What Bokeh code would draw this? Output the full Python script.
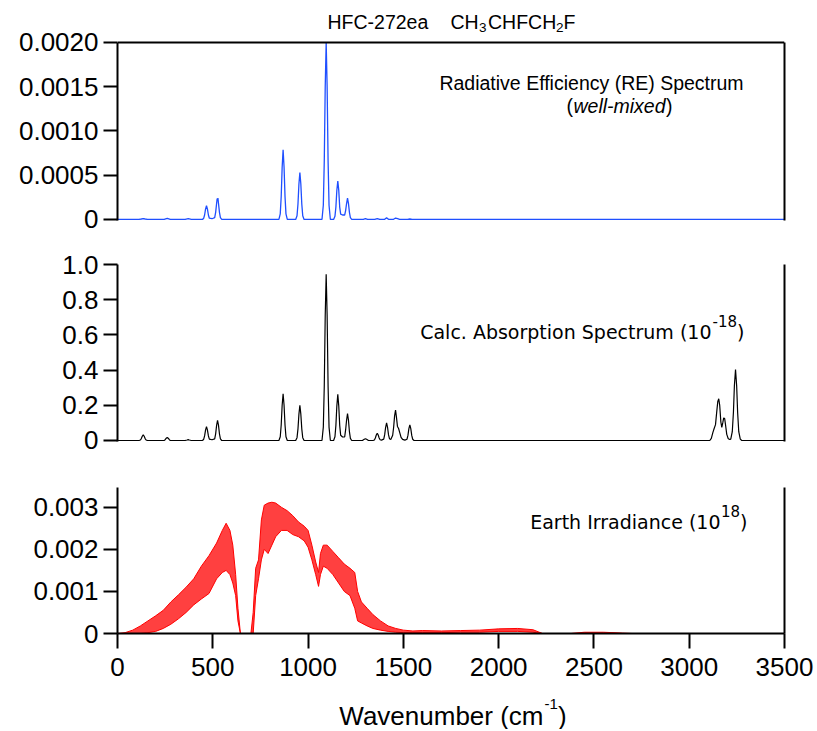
from bokeh.plotting import figure
from bokeh.layouts import column
from bokeh.models import Range1d, LinearAxis, FixedTicker, Label, Span
from bokeh.embed import file_html
from bokeh.resources import INLINE

# ---------------- data ----------------
x_ticks = [0, 500, 1000, 1500, 2000, 2500, 3000, 3500]
x_tick_labels = ["0", "500", "1000", "1500", "2000", "2500", "3000", "3500"]

re_ticks = [0, 0.0005, 0.001, 0.0015, 0.002]
re_tick_labels = ["0", "0.0005", "0.0010", "0.0015", "0.0020"]
abs_ticks = [0, 0.2, 0.4, 0.6, 0.8, 1.0]
abs_tick_labels = ["0", "0.2", "0.4", "0.6", "0.8", "1.0"]
irr_ticks = [0, 0.001, 0.002, 0.003]
irr_tick_labels = ["0", "0.001", "0.002", "0.003"]

# Radiative efficiency spectrum (well-mixed)
re_x = [0, 113, 125, 135, 145, 157,
        245, 261, 277,
        355, 371, 387,
        445, 452, 457, 462, 467, 472, 477, 482, 496, 510, 515, 520, 523, 525, 527, 530, 535, 540, 547,
        847, 854, 859, 864, 869, 874, 879, 884, 891,
        935, 942, 947, 952, 957, 962, 967, 972, 979,
        1073, 1080, 1085, 1090, 1095, 1100, 1105, 1110, 1117,
        1134, 1141, 1146, 1151, 1156, 1161, 1166, 1171, 1181,
        1192, 1197, 1202, 1207, 1212, 1217, 1222, 1229,
        1290, 1301, 1312, 1350, 1363, 1376, 1400, 1412, 1424, 1447, 1459, 1470, 1480, 1522, 1534, 1546, 3500]
re_y = [0, 0, 0.000005, 0.00001, 0.000005, 0,
        0, 0.000012, 0,
        0, 0.000008, 0,
        0, 0.000012, 0.00005, 0.000116, 0.000155, 0.000116, 0.00005, 0.000014, 0.000008, 0.00002,
        0.00008, 0.00018, 0.000235, 0.000225, 0.000241, 0.00018, 0.00008, 0.00002, 0,
        0, 0.000063, 0.00026, 0.00059, 0.000787, 0.00059, 0.00026, 0.000063, 0,
        0, 0.000042, 0.000175, 0.0004, 0.000531, 0.0004, 0.000175, 0.000042, 0,
        0, 0.00016, 0.00066, 0.0015, 0.002, 0.0015, 0.00066, 0.00016, 0,
        0, 0.000035, 0.00014, 0.00033, 0.000433, 0.00033, 0.00014, 0.00006, 0.00005,
        0.00005, 0.0001, 0.00018, 0.000241, 0.00018, 0.00008, 0.00002, 0,
        0, 0.000008, 0, 0, 0.00001, 0, 0, 0.000018, 0, 0, 0.000016, 0.000008, 0, 0, 0.000005, 0, 0]

# Calculated absorption spectrum (1e-18)
abs_x = [0, 113, 120, 125, 130, 135, 140, 145, 150, 157,
         239, 246, 251, 256, 261, 266, 271, 276, 283,
         355, 365, 371, 377, 387,
         445, 452, 457, 462, 467, 472, 477, 482, 496, 510, 515, 520, 525, 530, 535, 540, 547,
         847, 854, 859, 864, 869, 874, 879, 884, 891,
         935, 942, 947, 952, 957, 962, 967, 972, 979,
         1073, 1080, 1085, 1090, 1095, 1100, 1105, 1110, 1117,
         1134, 1141, 1146, 1151, 1156, 1161, 1166, 1171, 1181,
         1192, 1197, 1202, 1207, 1212, 1217, 1222, 1229,
         1285, 1295, 1301, 1307, 1317,
         1341, 1348, 1353, 1358, 1363, 1368, 1373, 1378, 1385,
         1397, 1402, 1407, 1412, 1417, 1422, 1427, 1434,
         1444, 1449, 1454, 1459, 1464, 1469, 1475, 1481, 1488, 1496,
         1508, 1519, 1524, 1529, 1534, 1539, 1544, 1549, 1556,
         3108, 3116, 3124, 3130, 3138, 3145, 3150, 3155, 3160, 3166, 3171, 3176, 3181, 3186, 3191, 3197, 3205, 3213,
         3218, 3226, 3232, 3237, 3243, 3249, 3254, 3260, 3268, 3276, 3500]
abs_y = [0, 0, 0.003, 0.011, 0.024, 0.032, 0.024, 0.011, 0.003, 0,
         0, 0.001, 0.006, 0.013, 0.017, 0.013, 0.006, 0.001, 0,
         0, 0.003, 0.005, 0.003, 0,
         0, 0.006, 0.026, 0.059, 0.079, 0.059, 0.026, 0.008, 0.004, 0.009, 0.038, 0.086, 0.115, 0.086, 0.038, 0.009, 0,
         0, 0.021, 0.088, 0.2, 0.266, 0.2, 0.088, 0.021, 0,
         0, 0.016, 0.066, 0.15, 0.2, 0.15, 0.066, 0.016, 0,
         0, 0.076, 0.31, 0.71, 0.945, 0.71, 0.31, 0.076, 0,
         0, 0.021, 0.086, 0.197, 0.262, 0.197, 0.086, 0.03, 0.02,
         0.02, 0.06, 0.115, 0.153, 0.115, 0.05, 0.012, 0,
         0, 0.007, 0.01, 0.007, 0,
         0, 0.003, 0.014, 0.031, 0.041, 0.031, 0.014, 0.004, 0.002,
         0.008, 0.033, 0.075, 0.1, 0.075, 0.033, 0.01, 0.006,
         0.03, 0.075, 0.14, 0.173, 0.13, 0.08, 0.068, 0.045, 0.018, 0.006,
         0.002, 0.007, 0.029, 0.067, 0.089, 0.067, 0.029, 0.007, 0,
         0, 0.012, 0.045, 0.065, 0.09, 0.17, 0.222, 0.237, 0.2, 0.105, 0.075, 0.1, 0.128, 0.125, 0.085, 0.035, 0.01, 0.006,
         0.008, 0.05, 0.16, 0.31, 0.403, 0.31, 0.16, 0.05, 0.008, 0, 0]

# Earth irradiance (1e18): upper and lower envelope of the dense line spectrum
irr_x = [0, 40, 80, 120, 160, 200, 240, 280, 320, 360,
         400, 440, 480, 520, 550, 570, 590, 605, 620, 632,
         645, 700, 712, 725, 740, 755, 770, 790, 810, 830,
         860, 890, 920, 950, 980, 1000, 1020, 1040, 1055, 1065,
         1080, 1100, 1130, 1160, 1190, 1220, 1245, 1260, 1280, 1310,
         1340, 1380, 1420, 1460, 1500, 1550, 1600, 1700, 1800, 1900,
         2000, 2100, 2180, 2230, 2380, 2450, 2550, 2650, 2700, 3500]
irr_upper = [0, 0.00002, 0.00008, 0.00018, 0.0003, 0.00042, 0.00055, 0.00075, 0.00092, 0.0011,
             0.0013, 0.0016, 0.00185, 0.00215, 0.00245, 0.00262, 0.00245, 0.0021, 0.0014, 0.0006,
             0, 0, 0.0005, 0.00155, 0.00175, 0.0027, 0.00305, 0.0031, 0.00312, 0.0031,
             0.003, 0.00292, 0.0028, 0.00265, 0.00255, 0.00245, 0.0021, 0.0017, 0.00145, 0.0019,
             0.0021, 0.0021, 0.00195, 0.0018, 0.00165, 0.00155, 0.00145, 0.001, 0.00075, 0.0006,
             0.00045, 0.0003, 0.00018, 0.00012, 0.00008, 0.00006, 0.00007, 0.00006, 0.00007, 0.00008,
             0.00011, 0.00012, 0.00009, 0, 0, 0.00003, 0.00003, 0.00001, 0, 0]
irr_lower = [0, 0, 0, 0, 0.00002, 0.00005, 0.00012, 0.00022, 0.00035, 0.0005,
             0.00068, 0.00082, 0.00095, 0.0013, 0.00145, 0.0015, 0.0014, 0.0012, 0.0009, 0.0003,
             0, 0, 0, 0.0009, 0.0013, 0.00175, 0.002, 0.0019, 0.0021, 0.0023,
             0.00245, 0.00245, 0.00235, 0.0023, 0.0022, 0.00205, 0.00175, 0.0014, 0.00112, 0.0014,
             0.0016, 0.00155, 0.0014, 0.0012, 0.001, 0.0009, 0.0006, 0.0003, 0.00025, 0.00018,
             0.00012, 0.00008, 0.00005, 0.00003, 0.00002, 0.00002, 0.00002, 0.00002, 0.00003, 0.00003,
             0.00005, 0.00005, 0.00003, 0, 0, 0.00001, 0.00001, 0, 0, 0]

# ---------------- layout constants ----------------
FRAME_W = 667
LEFT = 117
RIGHT = 31
SANS = "Liberation Sans"
ALT = "DejaVu Sans"
TICK_FONT = "26px"

x_range = Range1d(0, 3500)


def make_fig(frame_h, y_range, top, bottom, yloc="left"):
    p = figure(frame_width=FRAME_W, frame_height=frame_h, x_range=x_range, y_range=y_range,
               output_backend="svg", toolbar_location=None, x_axis_location=None,
               y_axis_location=yloc,
               min_border_left=LEFT, min_border_right=RIGHT,
               min_border_top=top, min_border_bottom=bottom)
    p.grid.visible = False
    p.outline_line_color = None
    p.background_fill_color = "white"
    p.border_fill_color = "white"
    return p


def style_axis(ax, ticks, labels, tick_out=14, standoff=5, bounds="auto"):
    ax.ticker = FixedTicker(ticks=ticks)
    ax.major_label_overrides = {t: l for t, l in zip(ticks, labels)}
    ax.axis_line_width = 2
    ax.axis_line_color = "black"
    ax.major_tick_line_width = 2
    ax.major_tick_line_color = "black"
    ax.major_tick_out = tick_out
    ax.major_tick_in = 0
    ax.minor_tick_line_color = None
    ax.major_label_text_font = SANS
    ax.major_label_text_font_size = TICK_FONT
    ax.major_label_text_color = "black"
    ax.major_label_standoff = standoff
    ax.bounds = bounds


def border_axis(p, side, bounds="auto"):
    ax = LinearAxis(ticker=FixedTicker(ticks=[]), axis_line_width=2, axis_line_color="black",
                    major_tick_line_color=None, minor_tick_line_color=None,
                    major_tick_out=0, major_tick_in=0, major_label_standoff=0,
                    major_label_text_font_size="0px", bounds=bounds)
    p.add_layout(ax, side)


def txt(p, xpx, yref, dy, text, size, font=SANS, align="left", style="normal"):
    p.add_layout(Label(x=0, y=yref, x_offset=xpx - LEFT, y_offset=dy, text=text,
                       text_font=font, text_font_size=size, text_align=align,
                       text_baseline="alphabetic", text_font_style=style, text_color="black"))


# ---------------- panel 1: RE spectrum (frame reaches the page top for the title) ----------------
Y1 = 0.002
p1 = make_fig(220, Range1d(-0.000012, 0.0024747), 0, 22)
style_axis(p1.yaxis[0], re_ticks, re_tick_labels, bounds=(-0.000012, Y1))
border_axis(p1, "right", (-0.000012, Y1))
p1.add_layout(Span(location=Y1, dimension="width", line_color="black", line_width=2))
p1.line(re_x, re_y, line_color="#1f4fff", line_width=1.3)

txt(p1, 327, Y1, 20, "HFC-272ea", "19.5px")
txt(p1, 450, Y1, 20, "CH", "19.5px")
txt(p1, 478.5, Y1, 15, "3", "13.5px")
txt(p1, 487.5, Y1, 20, "CHFCH", "19.5px")
txt(p1, 555.5, Y1, 15, "2", "13.5px")
txt(p1, 563, Y1, 20, "F", "19.5px")

txt(p1, 591, Y1, -41, "Radiative Efficiency (RE) Spectrum", "19.5px", align="center")
txt(p1, 619, Y1, -64, "well-mixed", "19.5px", align="center", style="italic")
txt(p1, 572.5, Y1, -64, "(", "19.5px", align="right")
txt(p1, 665.5, Y1, -64, ")", "19.5px")

# ---------------- panel 2: absorption spectrum ----------------
p2 = make_fig(177, Range1d(-0.0057, 1.0), 22, 23)
style_axis(p2.yaxis[0], abs_ticks, abs_tick_labels)
border_axis(p2, "right")
p2.line(abs_x, abs_y, line_color="black", line_width=1.2)

Y2 = 1.0
txt(p2, 711, Y2, -67, "Calc. Absorption Spectrum (10", "19px", font=ALT, align="right")
txt(p2, 712, Y2, -56, "-18", "15px", font=ALT)
txt(p2, 736.5, Y2, -67, ")", "19px", font=ALT)

# ---------------- panel 3: Earth irradiance ----------------
Y3 = 0.00347
p3 = make_fig(146, Range1d(0, Y3), 23, 60)
style_axis(p3.yaxis[0], irr_ticks, irr_tick_labels)
xax = LinearAxis()
p3.add_layout(xax, "below")
style_axis(xax, x_ticks, x_tick_labels, tick_out=15, standoff=9)
border_axis(p3, "right")
p3.varea(x=irr_x, y1=irr_lower, y2=irr_upper, fill_color="#ff0000", fill_alpha=0.75)
p3.line(irr_x, irr_upper, line_color="#ff0000", line_width=1)
p3.line(irr_x, irr_lower, line_color="#ff0000", line_width=1)

txt(p3, 720, Y3, -34, "Earth Irradiance (10", "19px", font=ALT, align="right")
txt(p3, 720.5, Y3, -23, "18", "15px", font=ALT)
txt(p3, 739.5, Y3, -34, ")", "19px", font=ALT)

# ---------------- x-axis title strip ----------------
p4 = make_fig(36, Range1d(0, 1), 0, 0, yloc=None)
txt(p4, 543, 1, -22, "Wavenumber (cm", "26px", align="right")
txt(p4, 544, 1, -10, "-1", "15px")
txt(p4, 557.5, 1, -22, ")", "26px")

layout = column(p1, p2, p3, p4, spacing=0)

open("out.html", "w").write(file_html(layout, INLINE))
